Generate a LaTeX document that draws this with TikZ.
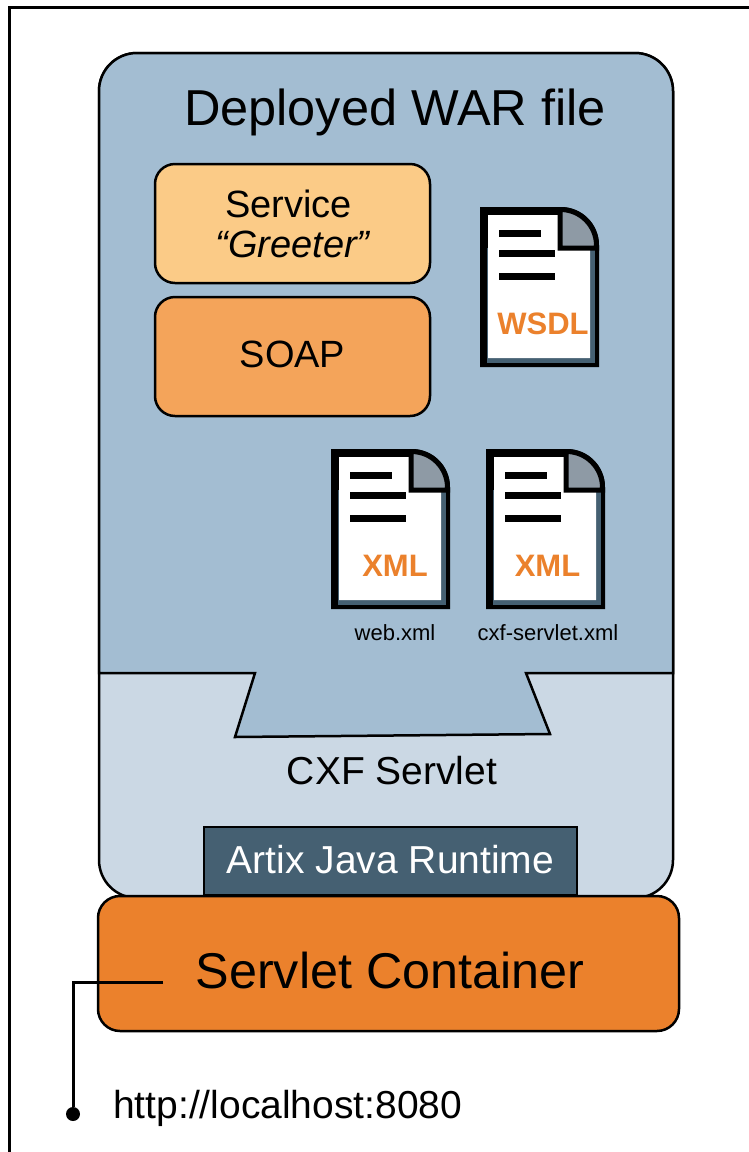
\documentclass[tikz,border=0pt]{standalone}
\usepackage{fontspec}
\setmainfont{Liberation Sans}
\definecolor{warblue}{HTML}{A3BDD2}
\definecolor{cxfblue}{HTML}{CBD8E4}
\definecolor{slate}{HTML}{456072}
\definecolor{paleorange}{HTML}{FBCB87}
\definecolor{softorange}{HTML}{F4A45A}
\definecolor{deeporange}{HTML}{EB812C}
\definecolor{foldgrey}{HTML}{8E9AA5}
\tikzset{
  outline/.style={draw=black, line width=2.5pt},
  layerbox/.style={outline, rounded corners=20pt, minimum width=275pt, minimum height=119pt, inner sep=0pt, align=center, font=\fontsize{38pt}{40pt}\selectfont},
  caption/.style={anchor=base, inner sep=0pt, text=black},
  small/.style={caption, font=\fontsize{22pt}{24pt}\selectfont},
  doctag/.style={caption, text=deeporange, font=\bfseries\fontsize{31pt}{33pt}\selectfont},
}
\begin{document}
\begin{tikzpicture}[x=1pt, y=-1pt]

  \useasboundingbox (0, 0) rectangle (749, 1152);
  \draw[line width=3pt] (9, 1152) -- (9, 7) -- (749, 7);

  % WAR file on top of the servlet
  \node[outline, fill=cxfblue, rounded corners=38pt, minimum width=574pt, minimum height=845pt, inner sep=0pt] (servlet) at (386, 475.5) {};
  \draw[outline, fill=warblue] (99, 673) [rounded corners=38pt] -- (99, 53) -- (673, 53) [sharp corners] -- (673, 673)
    -- (526, 673) -- (550, 734) -- (235, 737) -- (255, 673) -- cycle;

  \node[caption, font=\fontsize{50.5pt}{52pt}\selectfont] (warlabel) at (395, 125) {Deployed WAR file};
  \node[caption, font=\fontsize{39pt}{41pt}\selectfont] (cxflabel) at (392, 784) {CXF Servlet};

  \node[layerbox, fill=paleorange] (service) at (292.5, 223.5) {\hspace*{-8pt}Service\\{\itshape “Greeter”}};
  \node[layerbox, fill=softorange, text height=21pt, text depth=0pt] (soap) at (292.5, 356.5) {SOAP};

  \foreach \docname/\docx/\docy/\doctext/\tagx in {wsdl/480/207/WSDL/63, web/331/449/XML/64, cxf/486/449/XML/61.5} {
    \begin{scope}[shift={(\docx, \docy)}]
      \fill[black] (0, 0) [rounded corners=38pt] -- (119, 0) [sharp corners] -- (119, 160) -- (0, 160) -- cycle;
      \fill[slate] (7, 41) rectangle (115, 156);
      \fill[white] (8, 8) -- (80, 8) -- (80, 41) -- (110, 41) -- (110, 151) -- (8, 151) -- cycle;
      \draw[fill=foldgrey, line width=5pt] (80, 2.5) [rounded corners=36pt] -- (116.5, 2.5) [sharp corners] -- (116.5, 41) -- (80, 41) -- cycle;
      \draw[line width=7pt] (19, 26) -- (61, 26);
      \draw[line width=7pt] (19, 46) -- (75, 46);
      \draw[line width=7pt] (19, 69) -- (75, 69);
      \node[doctag] (\docname tag) at (\tagx, 127) {\doctext};
    \end{scope}
  }

  \node[small] (webname) at (395, 640) {web.xml};
  \node[small] (cxfname) at (548, 640) {cxf-servlet.xml};

  \node[outline, fill=slate, text=white, minimum width=373pt, minimum height=68pt, inner sep=0pt, text height=24pt, text depth=0pt, font=\fontsize{39pt}{41pt}\selectfont] (runtime) at (390.5, 861) {Artix Java Runtime};
  \node[outline, fill=deeporange, rounded corners=22pt, minimum width=581pt, minimum height=135pt, inner sep=0pt, text height=49pt, text depth=0pt, font=\fontsize{50.3pt}{52pt}\selectfont] (container) at (388.5, 963.5) {\hspace*{3pt}Servlet Container};

  \coordinate (porthook) at (163, 982);
  \node[circle, fill=black, minimum size=14pt, inner sep=0pt] (portdot) at (73, 1114) {};
  \draw[line width=3pt] (porthook) -| (portdot);
  \node[caption, anchor=base west, font=\fontsize{39pt}{41pt}\selectfont] (url) at (113, 1118) {http://localhost:8080};

\end{tikzpicture}
\end{document}
